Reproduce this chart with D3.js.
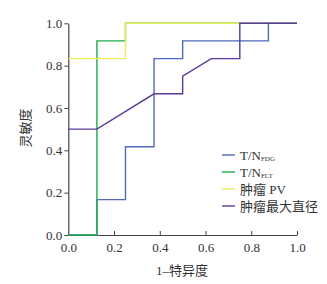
<!DOCTYPE html>
<html><head><meta charset="utf-8">
<script src="https://cdn.jsdelivr.net/npm/d3@7"></script>
<style>body{margin:0;background:#fff}</style>
</head><body><svg id="c" width="327" height="284"></svg>
<script>
const xTicks = [0, 0.2, 0.4, 0.6, 0.8, 1.0];
const yTicks = [0, 0.2, 0.4, 0.6, 0.8, 1.0];
const seriesNames = ["T/N_FDG", "T/N_FLT", "肿瘤 PV", "肿瘤最大直径"];
const seriesColors = ["#4f68bb", "#1fae4a", "#ecec5a", "#5b3a9c"];
const fdgX = [0, 0.125, 0.125, 0.25, 0.25, 0.375, 0.375, 0.5, 0.5, 0.875, 0.875, 1];
const fdgY = [0, 0, 0.167, 0.167, 0.417, 0.417, 0.833, 0.833, 0.917, 0.917, 1, 1];
const fltX = [0, 0.125, 0.125, 0.25, 0.25, 1];
const fltY = [0, 0, 0.917, 0.917, 1, 1];
const pvX = [0, 0.25, 0.25, 1];
const pvY = [0.833, 0.833, 1, 1];
const diaX = [0, 0.125, 0.375, 0.5, 0.5, 0.625, 0.75, 0.75, 1];
const diaY = [0.5, 0.5, 0.667, 0.667, 0.75, 0.833, 0.833, 1, 1];

const svg = d3.select("#c");
const x = d3.scaleLinear().domain([0, 1]).range([68.3, 297]);
const y = d3.scaleLinear().domain([0, 1]).range([235, 23.3]);
const serif = "'Liberation Serif','Times New Roman','Noto Sans CJK SC',serif";
const txt = "#333";

// axes
const xa = svg.append("g").attr("transform", `translate(0,${y(0)})`)
  .call(d3.axisBottom(x).tickValues(xTicks).tickFormat(d3.format(".1f")).tickSizeInner(-4).tickSizeOuter(0).tickPadding(8));
const ya = svg.append("g").attr("transform", `translate(${x(0)},0)`)
  .call(d3.axisLeft(y).tickValues(yTicks).tickFormat(d3.format(".1f")).tickSizeInner(4).tickSizeOuter(0).tickPadding(2));
[xa, ya].forEach(a => {
  a.select(".domain").attr("stroke", "#444").attr("stroke-width", 1.2);
  a.selectAll(".tick line").attr("stroke", "#444");
  a.selectAll("text").attr("font-family", serif).attr("font-size", 13).attr("fill", txt);
});
xa.selectAll(".tick").filter(d => d === 0).select("line").remove();

const series = [[fdgX, fdgY], [fltX, fltY], [pvX, pvY], [diaX, diaY]];
const line = d3.line().x(d => x(d[0])).y(d => y(d[1]));
series.forEach((s, i) => {
  const pts = s[0].map((v, j) => [v, s[1][j]]);
  svg.append("path").attr("d", line(pts)).attr("fill", "none")
    .attr("stroke", seriesColors[i]).attr("stroke-width", 1.4);
});

svg.append("text").attr("x", 182).attr("y", 275).attr("text-anchor", "middle")
  .attr("font-family", serif).attr("font-size", 13).attr("fill", txt).text("1–特异度");
svg.append("text").attr("transform", "translate(30,128) rotate(-90)").attr("text-anchor", "middle")
  .attr("font-family", serif).attr("font-size", 13).attr("fill", txt).text("灵敏度");

// legend
const lg = svg.append("g");
const rows = [155, 172, 189, 206];
seriesNames.forEach((n, i) => {
  lg.append("line").attr("x1", 222).attr("x2", 235).attr("y1", rows[i]).attr("y2", rows[i])
    .attr("stroke", seriesColors[i]).attr("stroke-width", 1.4);
  const t = lg.append("text").attr("x", 240).attr("y", rows[i] + 4.5)
    .attr("font-family", serif).attr("font-size", 13).attr("fill", txt);
  if (n.includes("_")) {
    const [a, b] = n.split("_");
    t.append("tspan").text(a);
    t.append("tspan").attr("font-size", 7).attr("dy", 1).text(b);
  } else t.text(n);
});
</script></body></html>
